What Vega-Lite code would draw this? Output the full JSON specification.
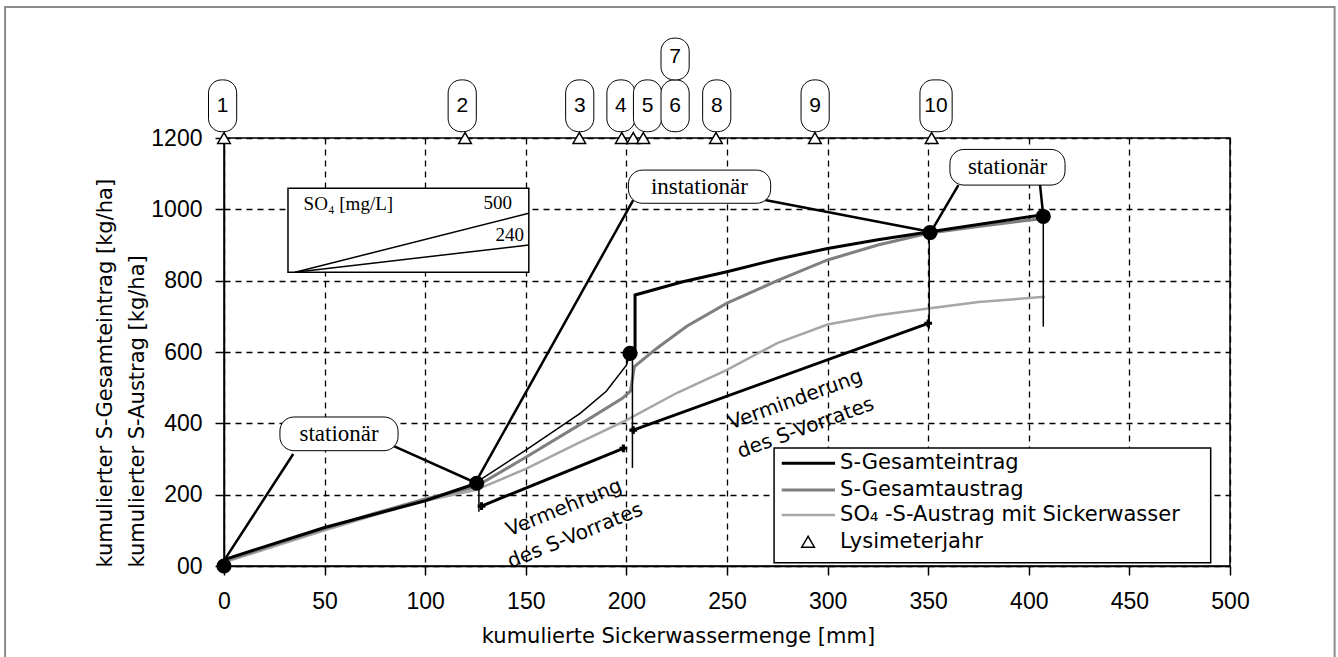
{
  "$schema": "https://vega.github.io/schema/vega-lite/v6.json",
  "width": 1006,
  "height": 428,
  "autosize": {"type": "none"},
  "padding": {"left": 224, "top": 138, "right": 108, "bottom": 91},
  "background": "white",
  "config": {
    "view": {"stroke": "black", "strokeWidth": 1.5},
    "axis": {
      "domainColor": "black", "domainWidth": 1.5,
      "tickColor": "black", "tickWidth": 1.5, "tickSize": 9,
      "gridColor": "black", "gridDash": [6, 5], "gridWidth": 1.3, "gridOpacity": 1,
      "labelFont": "Liberation Sans", "labelFontSize": 23, "labelColor": "black", "labelFlush": false,
      "titleFont": "DejaVu Sans", "titleFontSize": 21, "titleColor": "black", "titleFontWeight": "normal"
    }
  },
  "datasets": {
    "lines": [
      {"s": "SO4", "x": 0, "y": 10}, {"s": "SO4", "x": 25, "y": 55}, {"s": "SO4", "x": 50, "y": 100}, {"s": "SO4", "x": 75, "y": 143}, {"s": "SO4", "x": 100, "y": 183}, {"s": "SO4", "x": 125, "y": 213}, {"s": "SO4", "x": 150, "y": 272}, {"s": "SO4", "x": 175, "y": 342}, {"s": "SO4", "x": 200, "y": 409}, {"s": "SO4", "x": 225, "y": 485}, {"s": "SO4", "x": 250, "y": 550}, {"s": "SO4", "x": 275, "y": 625}, {"s": "SO4", "x": 300, "y": 677}, {"s": "SO4", "x": 325, "y": 703}, {"s": "SO4", "x": 350, "y": 722}, {"s": "SO4", "x": 375, "y": 740}, {"s": "SO4", "x": 408, "y": 755},
      {"s": "L3", "x": 277.2, "y": 143}, {"s": "L3", "x": 303.7, "y": 143},
      {"s": "A", "x": 0, "y": 14}, {"s": "A", "x": 25, "y": 60}, {"s": "A", "x": 50, "y": 105}, {"s": "A", "x": 75, "y": 148}, {"s": "A", "x": 100, "y": 188}, {"s": "A", "x": 125, "y": 222}, {"s": "A", "x": 150, "y": 305}, {"s": "A", "x": 175, "y": 390}, {"s": "A", "x": 198, "y": 470}, {"s": "A", "x": 202, "y": 490}, {"s": "A", "x": 204, "y": 559}, {"s": "A", "x": 215, "y": 610}, {"s": "A", "x": 230, "y": 672}, {"s": "A", "x": 250, "y": 737}, {"s": "A", "x": 275, "y": 800}, {"s": "A", "x": 300, "y": 858}, {"s": "A", "x": 325, "y": 900}, {"s": "A", "x": 350, "y": 933}, {"s": "A", "x": 375, "y": 952}, {"s": "A", "x": 408, "y": 975},
      {"s": "L2", "x": 277.2, "y": 213}, {"s": "L2", "x": 303.7, "y": 213},
      {"s": "E2", "x": 125.6, "y": 235}, {"s": "E2", "x": 150, "y": 325}, {"s": "E2", "x": 177, "y": 428}, {"s": "E2", "x": 190, "y": 490}, {"s": "E2", "x": 200, "y": 563}, {"s": "E2", "x": 201.8, "y": 596},
      {"s": "t1", "x": 126.7, "y": 232}, {"s": "t1", "x": 126.7, "y": 152},
      {"s": "t2", "x": 203, "y": 600}, {"s": "t2", "x": 203, "y": 275},
      {"s": "t3", "x": 350.5, "y": 937}, {"s": "t3", "x": 350.5, "y": 665},
      {"s": "t4", "x": 407.2, "y": 981}, {"s": "t4", "x": 407.2, "y": 671},
      {"s": "IN1", "x": 35.3, "y": 823.5}, {"s": "IN1", "x": 151.5, "y": 988.9},
      {"s": "IN2", "x": 35.3, "y": 823.5}, {"s": "IN2", "x": 151.5, "y": 900},
      {"s": "E1", "x": 0, "y": 18}, {"s": "E1", "x": 50, "y": 108}, {"s": "E1", "x": 100, "y": 183}, {"s": "E1", "x": 125.6, "y": 232},
      {"s": "E3", "x": 201.8, "y": 596}, {"s": "E3", "x": 204.3, "y": 597}, {"s": "E3", "x": 204.3, "y": 760}, {"s": "E3", "x": 228, "y": 797}, {"s": "E3", "x": 250, "y": 825}, {"s": "E3", "x": 275, "y": 860}, {"s": "E3", "x": 300, "y": 890}, {"s": "E3", "x": 325, "y": 915}, {"s": "E3", "x": 351, "y": 937}, {"s": "E3", "x": 407, "y": 985},
      {"s": "V1", "x": 128, "y": 168}, {"s": "V1", "x": 198.5, "y": 330},
      {"s": "V2", "x": 203.4, "y": 381}, {"s": "V2", "x": 350, "y": 680.5},
      {"s": "L1", "x": 277.2, "y": 288}, {"s": "L1", "x": 303.7, "y": 288},
      {"s": "c1", "x": 34.4, "y": 314}, {"s": "c1", "x": 0, "y": 15},
      {"s": "c2", "x": 83.3, "y": 339}, {"s": "c2", "x": 125.6, "y": 232},
      {"s": "c3", "x": 203.4, "y": 1026}, {"s": "c3", "x": 125.6, "y": 240},
      {"s": "c4", "x": 268.9, "y": 1026}, {"s": "c4", "x": 350.9, "y": 937},
      {"s": "c5", "x": 365, "y": 1068}, {"s": "c5", "x": 350.9, "y": 932.8},
      {"s": "c6", "x": 405.6, "y": 1068}, {"s": "c6", "x": 407.2, "y": 981.3}
    ],
    "frame": [{"x": -108.8, "x2": 552, "y": 1567, "y2": -260}],
    "boxes": [
      {"x": 273.4, "x2": 490.4, "y": 9.3, "y2": 330.8},
      {"x": 31.8, "x2": 151.5, "y": 823.5, "y2": 1059}
    ],
    "callBubbles": [
      {"x": 27.8, "x2": 86.5, "y": 323.3, "y2": 417.8},
      {"x": 201, "x2": 271.7, "y": 1017, "y2": 1110},
      {"x": 360.8, "x2": 418, "y": 1068, "y2": 1168}
    ],
    "numBubbles": [
      {"x": -7.7, "x2": 6.3, "y": 1217.6, "y2": 1362.9},
      {"x": 111.4, "x2": 125.4, "y": 1217.6, "y2": 1362.9},
      {"x": 169.8, "x2": 183.8, "y": 1217.6, "y2": 1362.9},
      {"x": 190.3, "x2": 204.3, "y": 1217.6, "y2": 1362.9},
      {"x": 203.5, "x2": 217.5, "y": 1217.6, "y2": 1362.9},
      {"x": 217.2, "x2": 231.2, "y": 1217.6, "y2": 1362.9},
      {"x": 217.2, "x2": 231.2, "y": 1362.9, "y2": 1480},
      {"x": 237.9, "x2": 251.9, "y": 1217.6, "y2": 1362.9},
      {"x": 286.8, "x2": 300.8, "y": 1217.6, "y2": 1362.9},
      {"x": 345.9, "x2": 361.9, "y": 1217.6, "y2": 1362.9}
    ],
    "numTexts": [
      {"x": -0.7, "y": 1290, "t": "1"}, {"x": 118.4, "y": 1290, "t": "2"}, {"x": 176.8, "y": 1290, "t": "3"},
      {"x": 197.3, "y": 1290, "t": "4"}, {"x": 210.5, "y": 1290, "t": "5"}, {"x": 224.2, "y": 1290, "t": "6"},
      {"x": 224.2, "y": 1428, "t": "7"}, {"x": 244.9, "y": 1290, "t": "8"}, {"x": 293.8, "y": 1290, "t": "9"},
      {"x": 353.9, "y": 1290, "t": "10"}
    ],
    "callTexts": [
      {"x": 57.2, "y": 370.5, "t": "stationär"},
      {"x": 236.3, "y": 1063.5, "t": "instationär"},
      {"x": 389.4, "y": 1118, "t": "stationär"}
    ],
    "legendTexts": [
      {"x": 306.2, "y": 288, "t": "S-Gesamteintrag"},
      {"x": 306.2, "y": 213, "t": "S-Gesamtaustrag"},
      {"x": 306.2, "y": 143, "t": "SO₄ -S-Austrag mit Sickerwasser"},
      {"x": 306.2, "y": 68, "t": "Lysimeterjahr"}
    ],
    "insetTexts": [
      {"x": 61.8, "y": 1014, "t": "SO₄ [mg/L]"},
      {"x": 136, "y": 1018.6, "t": "500"},
      {"x": 142, "y": 928, "t": "240"}
    ],
    "rot1": [{"x": 169, "y": 163, "t": "Vermehrung\ndes S-Vorrates"}],
    "rot2": [{"x": 284, "y": 466, "t": "Verminderung\ndes S-Vorrates"}],
    "tri": [
      {"x": 0, "y": 1200}, {"x": 119.8, "y": 1200}, {"x": 176.6, "y": 1200}, {"x": 197.7, "y": 1200},
      {"x": 203.4, "y": 1200}, {"x": 208.4, "y": 1200}, {"x": 244.5, "y": 1200}, {"x": 293.7, "y": 1200},
      {"x": 351.7, "y": 1200}, {"x": 290.3, "y": 68}
    ],
    "dots": [
      {"x": 0, "y": 0}, {"x": 125.6, "y": 232}, {"x": 201.8, "y": 596}, {"x": 350.9, "y": 935}, {"x": 407.2, "y": 980}
    ],
    "stars": [
      {"x": 128, "y": 168}, {"x": 198.5, "y": 330}, {"x": 203.4, "y": 381}, {"x": 350, "y": 680.5}
    ]
  },
  "encoding": {
    "x": {
      "field": "x", "type": "quantitative",
      "scale": {"domain": [0, 500], "nice": false, "zero": false},
      "axis": {
        "title": "kumulierte Sickerwassermenge [mm]",
        "values": [0, 50, 100, 150, 200, 250, 300, 350, 400, 450, 500],
        "grid": true, "labelPadding": 15, "labelFlush": false,
        "titleX": 454, "titleY": 76, "titleAlign": "center", "titleBaseline": "alphabetic", "titleAnchor": null
      }
    },
    "y": {
      "field": "y", "type": "quantitative",
      "scale": {"domain": [0, 1200], "nice": false, "zero": false},
      "axis": {
        "title": ["kumulierter S-Gesamteintrag [kg/ha]", "kumulierter S-Austrag [kg/ha]"],
        "values": [0, 200, 400, 600, 800, 1000, 1200],
        "format": "d",
        "labelExpr": "datum.value == 0 ? '00' : datum.label",
        "grid": true, "labelPadding": 13, "labelFlush": false,
        "titleX": -113, "titleY": 429, "titleAngle": 270, "titleAlign": "left",
        "titleBaseline": "alphabetic", "titleLineHeight": 32
      }
    }
  },
  "layer": [
    {
      "data": {"name": "frame"},
      "mark": {"type": "rect", "fill": null, "stroke": "#8c8c8c", "strokeWidth": 2, "clip": false},
      "encoding": {"x2": {"field": "x2"}, "y2": {"field": "y2"}}
    },
    {
      "data": {"name": "boxes"},
      "mark": {"type": "rect", "fill": "white", "stroke": "black", "strokeWidth": 1.5},
      "encoding": {"x2": {"field": "x2"}, "y2": {"field": "y2"}}
    },
    {
      "data": {"name": "lines"},
      "transform": [{"filter": "datum.s == 'SO4' || datum.s == 'L3'"}],
      "mark": {"type": "line", "color": "#a6a6a6", "strokeWidth": 2.5},
      "encoding": {"detail": {"field": "s"}, "order": {"value": null}}
    },
    {
      "data": {"name": "lines"},
      "transform": [{"filter": "datum.s == 'A' || datum.s == 'L2'"}],
      "mark": {"type": "line", "color": "#7f7f7f", "strokeWidth": 3},
      "encoding": {"detail": {"field": "s"}, "order": {"value": null}}
    },
    {
      "data": {"name": "lines"},
      "transform": [{"filter": "indexof(['E2','t1','t2','t3','t4','IN1','IN2'], datum.s) >= 0"}],
      "mark": {"type": "line", "color": "black", "strokeWidth": 1.5},
      "encoding": {"detail": {"field": "s"}, "order": {"value": null}}
    },
    {
      "data": {"name": "lines"},
      "transform": [{"filter": "indexof(['E1','E3','V1','V2','L1'], datum.s) >= 0"}],
      "mark": {"type": "line", "color": "black", "strokeWidth": 3},
      "encoding": {"detail": {"field": "s"}, "order": {"value": null}}
    },
    {
      "data": {"name": "lines"},
      "transform": [{"filter": "indexof(['c1','c2','c3','c4','c5','c6'], datum.s) >= 0"}],
      "mark": {"type": "line", "color": "black", "strokeWidth": 2.5},
      "encoding": {"detail": {"field": "s"}, "order": {"value": null}}
    },
    {
      "data": {"name": "dots"},
      "mark": {"type": "point", "shape": "circle", "filled": true, "color": "black", "size": 230, "opacity": 1}
    },
    {
      "data": {"name": "stars"},
      "mark": {"type": "point", "shape": "cross", "filled": true, "color": "black", "size": 60, "opacity": 1}
    },
    {
      "data": {"name": "callBubbles"},
      "mark": {"type": "rect", "fill": "white", "stroke": "black", "strokeWidth": 1, "cornerRadius": 14},
      "encoding": {"x2": {"field": "x2"}, "y2": {"field": "y2"}}
    },
    {
      "data": {"name": "numBubbles"},
      "mark": {"type": "rect", "fill": "white", "stroke": "black", "strokeWidth": 1, "cornerRadius": 13, "clip": false},
      "encoding": {"x2": {"field": "x2"}, "y2": {"field": "y2"}}
    },
    {
      "data": {"name": "tri"},
      "mark": {"type": "point", "shape": "triangle-up", "filled": true, "fill": "white", "stroke": "black", "strokeWidth": 1.5, "size": 160, "opacity": 1, "clip": false}
    },
    {
      "data": {"name": "numTexts"},
      "mark": {"type": "text", "font": "Liberation Sans", "fontSize": 21, "color": "black", "align": "center", "baseline": "middle", "clip": false},
      "encoding": {"text": {"field": "t"}}
    },
    {
      "data": {"name": "callTexts"},
      "mark": {"type": "text", "font": "Liberation Serif", "fontSize": 23, "color": "black", "align": "center", "baseline": "middle"},
      "encoding": {"text": {"field": "t"}}
    },
    {
      "data": {"name": "legendTexts"},
      "mark": {"type": "text", "font": "DejaVu Sans", "fontSize": 21, "color": "black", "align": "left", "baseline": "middle"},
      "encoding": {"text": {"field": "t"}}
    },
    {
      "data": {"name": "insetTexts"},
      "mark": {"type": "text", "font": "Liberation Serif", "fontSize": 19, "color": "black", "align": "center", "baseline": "middle"},
      "encoding": {"text": {"field": "t"}}
    },
    {
      "data": {"name": "rot1"},
      "mark": {"type": "text", "font": "DejaVu Sans", "fontSize": 20, "color": "black", "align": "center", "baseline": "middle", "angle": 338, "lineBreak": "\n", "lineHeight": 30},
      "encoding": {"text": {"field": "t"}}
    },
    {
      "data": {"name": "rot2"},
      "mark": {"type": "text", "font": "DejaVu Sans", "fontSize": 20, "color": "black", "align": "center", "baseline": "middle", "angle": 340, "lineBreak": "\n", "lineHeight": 30},
      "encoding": {"text": {"field": "t"}}
    }
  ]
}
